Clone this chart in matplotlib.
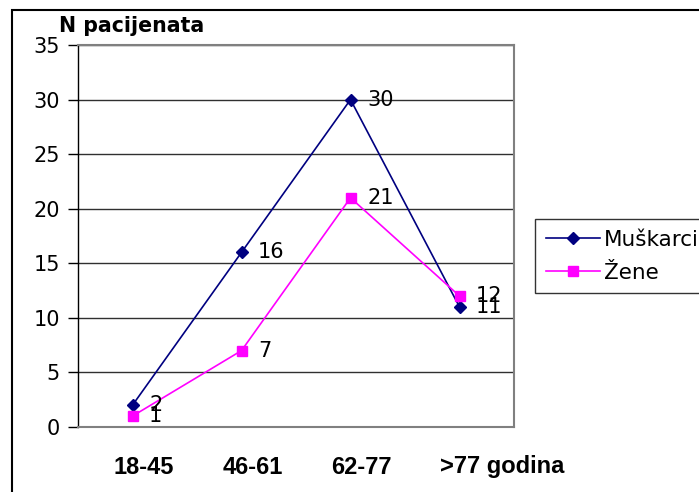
import matplotlib.pyplot as plt
from matplotlib.patches import Rectangle

# === Data ===
categories = ['18-45', '46-61', '62-77', '>77 godina']
muskarci = [2, 16, 30, 11]
zene = [1, 7, 21, 12]

plt.rcParams['font.family'] = ['DejaVu Sans']

fig = plt.figure(figsize=(6.99, 4.92), dpi=100)
ax = fig.add_axes([78 / 699, 65 / 492, 436 / 699, 382 / 492])

x = range(len(categories))
ax.plot(x, muskarci, color='#000080', marker='D', markersize=6, lw=1.2, label='Muškarci')
ax.plot(x, zene, color='#FF00FF', marker='s', markersize=7, lw=1.2, label='Žene')

for xi, v in zip(x, muskarci):
    ax.annotate(str(v), (xi, v), xytext=(12, 0), textcoords='offset points',
                ha='left', va='center', fontsize=15)
for xi, v in zip(x, zene):
    ax.annotate(str(v), (xi, v), xytext=(12, 0), textcoords='offset points',
                ha='left', va='center', fontsize=15)

# category labels, left-anchored a bit left of each category centre
for xi, cat in zip(x, categories):
    ax.annotate(cat, (xi, 0), xycoords=('data', 'axes fraction'), xytext=(-19, -40),
                textcoords='offset pixels', ha='left', va='center',
                fontsize=17, fontweight='bold', family='Liberation Sans')

# === Axes styling ===
ax.set_xlim(-0.5, 3.5)
ax.set_ylim(0, 35)
ax.set_yticks(range(0, 36, 5))
ax.set_xticks(list(x))
ax.set_xticklabels([])
ax.tick_params(axis='x', length=0)
ax.tick_params(axis='y', labelsize=15, length=7, width=1, pad=6)
ax.yaxis.grid(True, color='#303030', lw=1)
ax.set_axisbelow(True)
for side in ['right', 'top', 'bottom']:
    ax.spines[side].set_color('#808080')
    ax.spines[side].set_linewidth(1.5)
ax.spines['left'].set_color('black')
ax.spines['left'].set_linewidth(1)

fig.text(59 / 699, 1 - 32 / 492, 'N pacijenata', fontsize=14.8, fontweight='bold',
         ha='left', va='baseline')

leg = fig.legend(loc='upper left', bbox_to_anchor=(535 / 699, 1 - 219 / 492),
                 fontsize=15.5, frameon=True, fancybox=False, handlelength=2.5,
                 borderpad=0.5, labelspacing=0.6, handletextpad=0.2, borderaxespad=0)
leg.get_frame().set_edgecolor('black')
leg.get_frame().set_linewidth(1)

# === Figure border ===
fig.patches.append(Rectangle((12 / 699, -0.1), 1.1, 1.1 - 10 / 492, transform=fig.transFigure,
                             fill=False, edgecolor='black', lw=1.5))

plt.savefig('out.png', dpi=100)
